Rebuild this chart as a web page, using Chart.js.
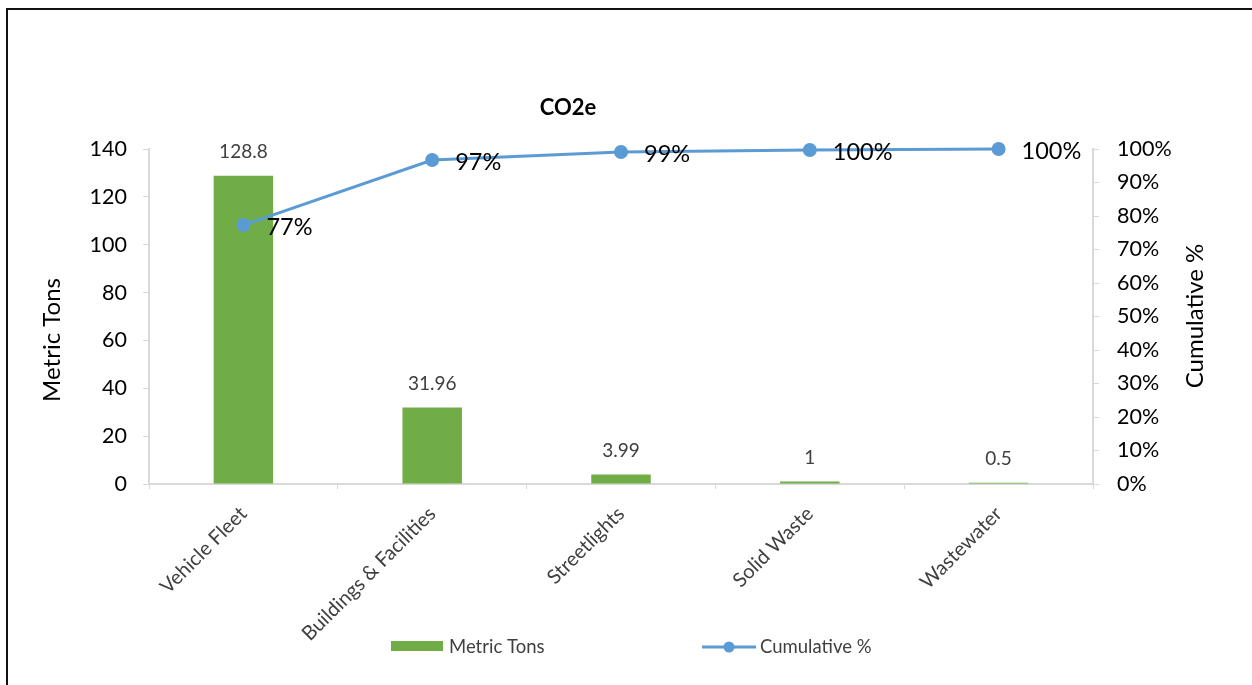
<!DOCTYPE html>
<html>
<head>
<meta charset="utf-8">
<script src="https://cdn.jsdelivr.net/npm/chart.js@4"></script>
<style>
  html, body { margin:0; padding:0; background:#fff; }
  #wrap { position:relative; width:1252px; height:685px; overflow:hidden; }
  #frame { position:absolute; left:6px; top:8px; width:1400px; height:900px; border-top:2px solid #111; border-left:2px solid #111; }
  canvas { position:absolute; left:0; top:0; }
</style>
</head>
<body>
<div id="wrap">
  <div id="frame"></div>
  <canvas id="c" width="1252" height="685"></canvas>
</div>
<script>
// data
const categories = ['Vehicle Fleet', 'Buildings & Facilities', 'Streetlights', 'Solid Waste', 'Wastewater'];
const metricTons = [128.8, 31.96, 3.99, 1, 0.5];
const cumulativePct = [0.773, 0.967, 0.991, 0.997, 1.0];
const leftTicks = [0, 20, 40, 60, 80, 100, 120, 140];
const rightTicks = [0, 0.1, 0.2, 0.3, 0.4, 0.5, 0.6, 0.7, 0.8, 0.9, 1.0];

const F = "Lato, 'Open Sans', sans-serif";
const AX = '#d9d9d9';
const GREEN = '#70ad47';
const BLUE = '#5b9bd5';

const labelsPlugin = {
  id: 'valueLabels',
  afterDatasetsDraw(chart) {
    const ctx = chart.ctx;
    ctx.save();
    // bar values
    ctx.font = `19px ${F}`;
    ctx.fillStyle = '#404040';
    ctx.textAlign = 'center';
    ctx.textBaseline = 'middle';
    chart.getDatasetMeta(1).data.forEach((bar, i) => {
      ctx.fillText(String(metricTons[i]), bar.x, bar.y - 24);
    });
    // cumulative labels
    ctx.font = `23.5px ${F}`;
    ctx.fillStyle = '#000';
    ctx.textAlign = 'left';
    chart.getDatasetMeta(0).data.forEach((pt, i) => {
      ctx.fillText(Math.round(cumulativePct[i] * 100) + '%', pt.x + 23, pt.y + 2);
    });
    ctx.restore();
  }
};

const decorPlugin = {
  id: 'decor',
  afterDraw(chart) {
    const ctx = chart.ctx;
    ctx.save();
    // title
    ctx.font = `bold 22px ${F}`;
    ctx.fillStyle = '#000';
    ctx.textAlign = 'center';
    ctx.textBaseline = 'middle';
    ctx.fillText('CO2e', 568, 108);
    // axis titles
    ctx.font = `24px ${F}`;
    ctx.save(); ctx.translate(52, 340); ctx.rotate(-Math.PI / 2); ctx.fillText('Metric Tons', 0, 0); ctx.restore();
    ctx.save(); ctx.translate(1195, 316); ctx.rotate(-Math.PI / 2); ctx.fillText('Cumulative %', 0, 0); ctx.restore();
    // legend
    ctx.font = `18.5px ${F}`;
    ctx.textAlign = 'left';
    ctx.fillStyle = GREEN;
    ctx.fillRect(391, 641, 52, 10);
    ctx.fillStyle = '#404040';
    ctx.fillText(chart.data.datasets[1].label, 449, 647);
    ctx.strokeStyle = BLUE; ctx.lineWidth = 3;
    ctx.beginPath(); ctx.moveTo(702, 647); ctx.lineTo(756, 647); ctx.stroke();
    ctx.fillStyle = BLUE;
    ctx.beginPath(); ctx.arc(729, 647, 5.5, 0, Math.PI * 2); ctx.fill();
    ctx.fillStyle = '#404040';
    ctx.fillText(chart.data.datasets[0].label, 760, 647);
    ctx.restore();
  }
};

new Chart(document.getElementById('c'), {
  data: {
    labels: categories,
    datasets: [
      {
        type: 'line', label: 'Cumulative %', data: cumulativePct, yAxisID: 'y1', clip: false,
        borderColor: BLUE, backgroundColor: BLUE, borderWidth: 3,
        pointRadius: 7, pointBackgroundColor: BLUE, pointBorderWidth: 0, tension: 0, order: 0
      },
      {
        type: 'bar', label: 'Metric Tons', data: metricTons, yAxisID: 'y',
        backgroundColor: GREEN, borderWidth: 0, categoryPercentage: 1, barPercentage: 0.315, order: 1
      }
    ]
  },
  options: {
    responsive: false, animation: false,
    layout: { padding: { top: 149, left: 0, right: 0, bottom: 0 } },
    plugins: { legend: { display: false }, tooltip: { enabled: false }, title: { display: false } },
    scales: {
      x: {
        offset: true,
        grid: { display: true, drawOnChartArea: false, offset: true, color: AX, tickLength: 5 },
        border: { color: AX, width: 2 },
        ticks: { color: '#404040', font: { size: 20, family: F }, minRotation: 45, maxRotation: 45, padding: 13 },
        afterFit: s => { s.height = 201; }
      },
      y: {
        position: 'left', min: 0, max: 140,
        afterBuildTicks: s => { s.ticks = leftTicks.map(v => ({ value: v })); },
        grid: { display: true, drawOnChartArea: false, color: AX, tickLength: 6 },
        border: { color: AX, width: 2 },
        ticks: { color: '#000', font: { size: 21.5, family: F }, padding: 16 },
        afterFit: s => { s.width = 149; }
      },
      y1: {
        position: 'right', min: 0, max: 1,
        afterBuildTicks: s => { s.ticks = rightTicks.map(v => ({ value: v })); },
        grid: { display: true, drawOnChartArea: false, color: AX, tickLength: 6 },
        border: { color: AX, width: 2 },
        ticks: { color: '#000', font: { size: 21.5, family: F }, padding: 18, callback: v => Math.round(v * 100) + '%' },
        afterFit: s => { s.width = 159; }
      }
    }
  },
  plugins: [labelsPlugin, decorPlugin]
});
</script>
</body>
</html>
